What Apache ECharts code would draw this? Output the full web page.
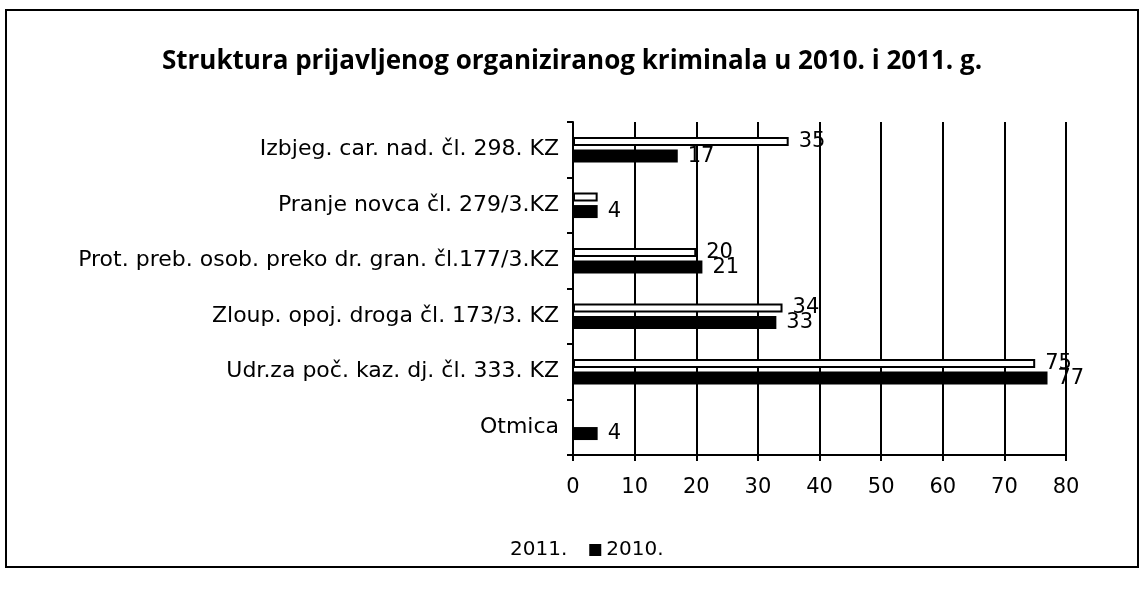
<!DOCTYPE html>
<html>
<head>
<meta charset="utf-8">
<style>
    html,body{margin:0;padding:0;background:#fff;}
    #chart{width:1144px;height:589px;}
</style>
</head>
<body>
<div id="chart"></div>
<script src="https://cdn.jsdelivr.net/npm/echarts@6/dist/echarts.min.js"></script>
<script>
    // kategorije (odozdo prema gore, kako ih crta kategorijska os)
    var categories = ['Otmica', 'Udr.za poč. kaz. dj. čl. 333. KZ', 'Zloup. opoj. droga čl. 173/3. KZ',
        'Prot. preb. osob. preko dr. gran. čl.177/3.KZ', 'Pranje novca čl. 279/3.KZ', 'Izbjeg. car. nad. čl. 298. KZ'];
    var values2011 = [0, 75, 34, 20, 4, 35];
    var values2010 = [4, 77, 33, 21, 4, 17];
    var xTicks = [0, 10, 20, 30, 40, 50, 60, 70, 80];

    var font = '"DejaVu Sans", "Open Sans", sans-serif';

    // bez oznake za nule i dvostruku "4" kod pranja novca
    var data2011 = values2011.map(function (v, i) {
        return { value: v, label: { show: v > 0 && i !== 4 } };
    });

    var option = {
        animation: false,
        backgroundColor: '#fff',
        title: {
            text: 'Struktura prijavljenog organiziranog kriminala u 2010. i 2011. g.',
            left: 'center',
            top: 44,
            textStyle: { fontFamily: '"Open Sans", sans-serif', fontSize: 26, fontWeight: 'bold', color: '#000' }
        },
        graphic: [{
            type: 'rect',
            shape: { x: 6, y: 10, width: 1132, height: 557 },
            style: { fill: 'none', stroke: '#000', lineWidth: 2 }
        }],
        legend: {
            bottom: 24,
            left: 488,
            icon: 'rect',
            itemWidth: 12,
            itemHeight: 12,
            itemGap: 22,
            textStyle: { fontFamily: font, fontSize: 20, color: '#000' },
            data: [{ name: '2011.', itemStyle: { borderWidth: 0, color: '#fff' } }, '2010.']
        },
        grid: { left: 573, right: 78, top: 122, bottom: 134, containLabel: false },
        xAxis: {
            type: 'value',
            min: 0, max: 80, interval: 10,
            axisLine: { show: true, lineStyle: { color: '#000', width: 2 } },
            axisTick: { show: true, length: 6, lineStyle: { color: '#000', width: 2 } },
            axisLabel: {
                margin: 22, color: '#000', fontFamily: font, fontSize: 21,
                formatter: function (v) { return xTicks.indexOf(v) >= 0 ? String(v) : ''; }
            },
            splitLine: { show: true, lineStyle: { color: '#000', width: 2 } }
        },
        yAxis: {
            type: 'category',
            data: categories,
            axisLine: { show: true, lineStyle: { color: '#000', width: 2 } },
            axisTick: { show: true, length: 6, lineStyle: { color: '#000', width: 2 } },
            axisLabel: { margin: 14, color: '#000', fontFamily: font, fontSize: 22 }
        },
        series: [{
            name: '2011.',
            type: 'bar',
            data: data2011,
            barWidth: 9,
            barGap: '40%',
            itemStyle: { color: '#fff', borderColor: '#000', borderWidth: 2 },
            label: { show: true, position: 'right', distance: 10, color: '#000', fontFamily: font, fontSize: 21 }
        }, {
            name: '2010.',
            type: 'bar',
            data: values2010,
            barWidth: 13,
            itemStyle: { color: '#000' },
            label: { show: true, position: 'right', distance: 10, color: '#000', fontFamily: font, fontSize: 21 }
        }]
    };

    echarts.init(document.getElementById('chart')).setOption(option);
</script>
</body>
</html>
